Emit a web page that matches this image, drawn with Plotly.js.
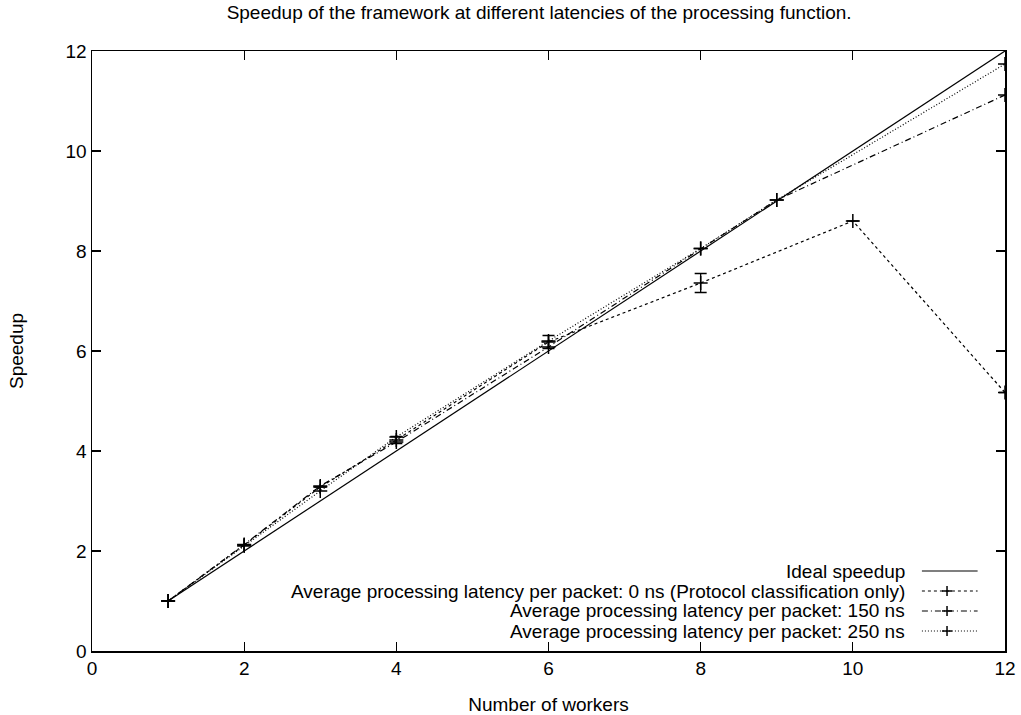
<!DOCTYPE html>
<html>
<head>
<meta charset="utf-8">
<script src="https://cdn.plot.ly/plotly-3.0.1.min.js"></script>
<style>
  html, body { margin: 0; padding: 0; background: #fff; }
  #chart { width: 1021px; height: 715px; }
</style>
</head>
<body>
<div id="chart"></div>
<script>
// Speedup measurements per number of worker threads
const idealX = [1, 12];
const idealY = [1, 12];

const lat0X = [1, 2, 3, 4, 6, 8, 10, 12];
const lat0Y = [1, 2.12, 3.28, 4.22, 6.18, 7.36, 8.6, 5.17];
const lat0Err = [0, 0, 0, 0.07, 0.13, 0.19, 0, 0];

const lat150X = [1, 2, 3, 4, 6, 8, 9, 12];
const lat150Y = [1, 2.13, 3.3, 4.18, 6.08, 8.05, 9.02, 11.12];

const lat250X = [1, 2, 3, 4, 6, 8, 9, 12];
const lat250Y = [1, 2.1, 3.2, 4.28, 6.2, 8.05, 9.02, 11.74];

const legendLabels = [
  'Ideal speedup',
  'Average processing latency per packet: 0 ns (Protocol classification only)',
  'Average processing latency per packet: 150 ns',
  'Average processing latency per packet: 250 ns'
];
const legendDashes = ['solid', '3px,3px', '6px,3px,1px,3px', '1px,2px'];
const legendHasMarker = [false, true, true, true];

const xTicks = [0, 2, 4, 6, 8, 10, 12];
const yTicks = [0, 2, 4, 6, 8, 10, 12];

const FONT = 'Liberation Sans, Arial, Helvetica, sans-serif';
const FS = 19;
const KEY_FS = 19;
const cross = { symbol: 'cross-thin', size: 10, line: { width: 1.5, color: '#000' }, color: '#000' };

const traces = [
  { x: idealX, y: idealY, mode: 'lines', name: legendLabels[0],
    line: { color: '#000', width: 1.2, dash: legendDashes[0] } },
  { x: lat0X, y: lat0Y, mode: 'lines+markers', name: legendLabels[1],
    line: { color: '#000', width: 1.2, dash: legendDashes[1] }, marker: cross,
    error_y: { type: 'data', array: lat0Err, visible: true, color: '#000', thickness: 1.3, width: 6 } },
  { x: lat150X, y: lat150Y, mode: 'lines+markers', name: legendLabels[2],
    line: { color: '#000', width: 1.2, dash: legendDashes[2] }, marker: cross },
  { x: lat250X, y: lat250Y, mode: 'lines+markers', name: legendLabels[3],
    line: { color: '#000', width: 1.2, dash: legendDashes[3] }, marker: cross }
];

// Key in the lower right corner: label text, then a line sample to its right
const keyRowsY = [0.1333, 0.1, 0.0667, 0.0333];
const keyTextX = 0.8926;
const keyLineX0 = 0.909, keyLineX1 = 0.970, keyMidX = 0.9365;
const annotations = [];
const shapes = [];
legendLabels.forEach((label, i) => {
  annotations.push({
    xref: 'paper', yref: 'paper', x: keyTextX, y: keyRowsY[i],
    xanchor: 'right', yanchor: 'middle', showarrow: false,
    text: label, font: { family: FONT, size: KEY_FS, color: '#000' }
  });
  shapes.push({
    type: 'line', xref: 'paper', yref: 'paper',
    x0: keyLineX0, x1: keyLineX1, y0: keyRowsY[i], y1: keyRowsY[i],
    line: { color: '#000', width: 1.2, dash: legendDashes[i] }
  });
  if (legendHasMarker[i]) {
    shapes.push({
      type: 'line', xref: 'paper', yref: 'paper',
      x0: keyMidX - 0.0055, x1: keyMidX + 0.0055, y0: keyRowsY[i], y1: keyRowsY[i],
      line: { color: '#000', width: 1.5 }
    });
    shapes.push({
      type: 'line', xref: 'paper', yref: 'paper',
      x0: keyMidX, x1: keyMidX, y0: keyRowsY[i] - 0.0085, y1: keyRowsY[i] + 0.0085,
      line: { color: '#000', width: 1.5 }
    });
  }
});

const axisCommon = {
  showgrid: false, zeroline: false, showline: true, mirror: 'ticks',
  linecolor: '#000', linewidth: 1.5, ticks: 'inside', ticklen: 9,
  tickwidth: 1.2, tickcolor: '#000',
  tickfont: { family: FONT, size: FS, color: '#000' }
};

const layout = {
  width: 1021, height: 715,
  margin: { l: 92, r: 16, t: 51, b: 64 },
  paper_bgcolor: '#fff', plot_bgcolor: '#fff',
  showlegend: false,
  title: { text: 'Speedup of the framework at different latencies of the processing function.',
           font: { family: FONT, size: 19, color: '#000' }, x: 0.528, xanchor: 'center', y: 0.983, yanchor: 'middle' },
  xaxis: Object.assign({}, axisCommon, {
    range: [0, 12], tickvals: xTicks, ticktext: xTicks.map(String),
    title: { text: 'Number of workers', font: { family: FONT, size: FS, color: '#000' }, standoff: 19 }
  }),
  yaxis: Object.assign({}, axisCommon, {
    range: [0, 12], tickvals: yTicks, ticktext: yTicks.map(String),
    title: { text: 'Speedup', font: { family: FONT, size: FS, color: '#000' }, standoff: 37 }
  }),
  annotations: annotations,
  shapes: shapes
};

Plotly.newPlot('chart', traces, layout, { displayModeBar: false, staticPlot: true });
</script>
</body>
</html>
